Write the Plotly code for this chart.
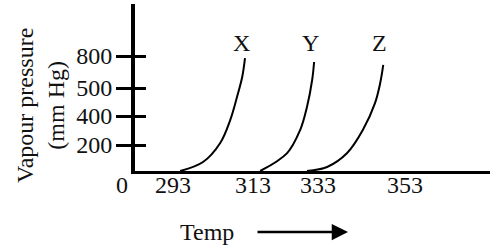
import numpy as np
import plotly.graph_objects as go

# ---- data ----
temp_ticks = [293, 313, 333, 353]
pressure_ticks = [200, 400, 500, 800]
series_names = ["X", "Y", "Z"]
x_temp = [294.8, 300.5, 304.8, 307.3, 309.0, 310.3, 311.0]
x_press = [0, 69, 214, 372, 468, 603, 781]
y_temp = [315.2, 323.5, 327.5, 329.6, 331.2, 331.8]
y_press = [0, 138, 303, 432, 575, 744]
z_temp = [329.6, 335.1, 339.7, 343.3, 346.1, 347.3, 348.0]
z_press = [0, 31, 138, 303, 446, 547, 716]

# ---- schematic (non-uniform) scales of the diagram ----
T_DOM = [293, 313, 333, 353]
T_POS = [38, 118, 183, 270]
P_DOM = [0, 200, 400, 500, 800]
P_POS = [0, 26, 55, 83, 115]


def sx(t):
    return np.interp(t, T_DOM, T_POS)


def sy(p):
    return np.interp(p, P_DOM, P_POS)


W, H = 500, 250
L, R, T, B = 135, 10, 4, 79
XR = [0, W - L - R]
YR = [0, H - T - B]
FONT = "Liberation Serif, Times New Roman, serif"
TXT = dict(family=FONT, size=24, color="#111")

fig = go.Figure()
for name, tx, py in [("X", x_temp, x_press), ("Y", y_temp, y_press), ("Z", z_temp, z_press)]:
    fig.add_trace(go.Scatter(
        x=sx(tx), y=sy(py), mode="lines",
        line=dict(color="black", width=2, shape="spline", smoothing=1.0),
        showlegend=False, hoverinfo="skip", name=name))
    fig.add_annotation(x=sx(tx[-1]), y=sy(max(pressure_ticks)), text=name, showarrow=False,
                       xanchor="center", yanchor="bottom", yshift=-2, xshift=-4,
                       font=TXT)

fig.update_layout(
    width=W, height=H,
    margin=dict(l=L, r=R, t=T, b=B, pad=0),
    paper_bgcolor="white", plot_bgcolor="white",
    font=TXT,
    xaxis=dict(range=XR, showgrid=False, zeroline=False, showline=True,
               linecolor="black", linewidth=3, ticks="", ticklabelstandoff=-10,
               tickvals=list(sx(temp_ticks)), ticktext=[str(t) for t in temp_ticks],
               tickfont=TXT),
    yaxis=dict(range=YR, showgrid=False, zeroline=False, showline=True,
               linecolor="black", linewidth=4, ticks="outside", ticklen=15,
               tickwidth=3, tickcolor="black", ticklabelstandoff=-1,
               tickvals=list(sy(pressure_ticks)), ticktext=[str(p) for p in pressure_ticks],
               tickfont=TXT),
    yaxis2=dict(range=YR, overlaying="y", side="left", showgrid=False,
                zeroline=False, showline=False, ticks="inside", ticklen=11,
                tickwidth=3, tickcolor="black", showticklabels=False,
                tickvals=list(sy(pressure_ticks))),
)
# dummy trace to activate yaxis2
fig.add_trace(go.Scatter(x=[None], y=[None], yaxis="y2", showlegend=False, hoverinfo="skip"))


def px(xp):
    return (xp - L) / (W - L - R)


def py_(yp):
    return (H - B - yp) / (H - T - B)


fig.add_annotation(xref="paper", yref="paper", x=px(122), y=py_(185), text="0",
                   xanchor="center", yanchor="middle", showarrow=False, font=TXT)
fig.add_annotation(xref="paper", yref="paper", x=px(41), y=py_(106),
                   text="Vapour pressure<br>(mm Hg)", textangle=-90, showarrow=False,
                   xanchor="center", yanchor="middle", font=TXT)
fig.add_annotation(xref="paper", yref="paper", x=px(207), y=py_(232), text="Temp",
                   xanchor="center", yanchor="middle", showarrow=False, font=TXT)
fig.add_annotation(xref="paper", yref="paper", axref="pixel", ayref="pixel",
                   x=px(348), y=py_(232), ax=-92, ay=0, text="",
                   showarrow=True, arrowhead=2, arrowsize=1.3, arrowwidth=2.5,
                   arrowcolor="black")

fig.write_html("out.html")
